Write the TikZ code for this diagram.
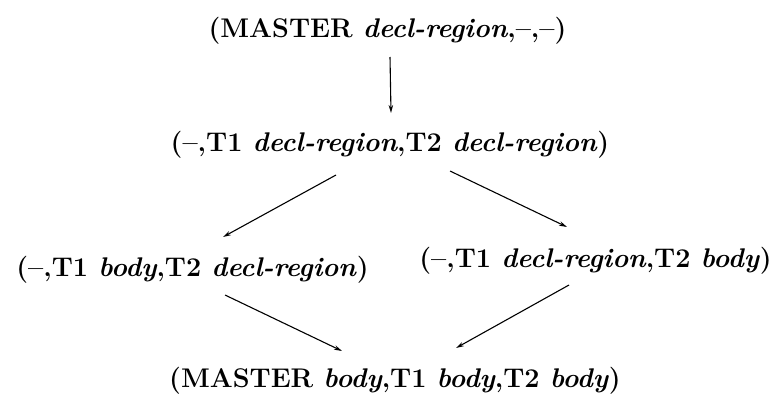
\documentclass[tikz,border=0pt]{standalone}
\usetikzlibrary{arrows.meta,calc}
\tikzset{
  lbl/.style={anchor=base, inner sep=0pt, font=\fontsize{27}{32}\selectfont\bfseries},
  arr/.style={line width=1.1pt, -{Stealth[length=8pt,width=4.5pt]}}
}
\begin{document}
\begin{tikzpicture}[x=1pt,y=-1pt]
\useasboundingbox (0,0) rectangle (783,402);
\node[lbl] (top) at (387.5,37) {(MASTER \textit{decl-region},--,--)};
\node[lbl] (mid) at (390,151) {(--,T1 \textit{decl-region},T2 \textit{decl-region})};
\node[lbl] (lft) at (192.5,276) {(--,T1 \textit{body},T2 \textit{decl-region})};
\node[lbl] (rgt) at (595.5,267) {(--,T1 \textit{decl-region},T2 \textit{body})};
\node[lbl] (bot) at (395,387) {(MASTER \textit{body},T1 \textit{body},T2 \textit{body})};
\draw[arr] ($(top.base)+(2.5,20)$) -- ($(mid.base)+(1,-38)$);
\draw[arr] ($(mid.base)+(-54,24)$) -- ($(lft.base)+(30.5,-39)$);
\draw[arr] ($(mid.base)+(60,20)$) -- ($(rgt.base)+(-28.5,-40)$);
\draw[arr] ($(lft.base)+(32.5,19)$) -- ($(bot.base)+(-53,-36)$);
\draw[arr] ($(rgt.base)+(-26.5,18)$) -- ($(bot.base)+(61,-39)$);
\end{tikzpicture}
\end{document}
